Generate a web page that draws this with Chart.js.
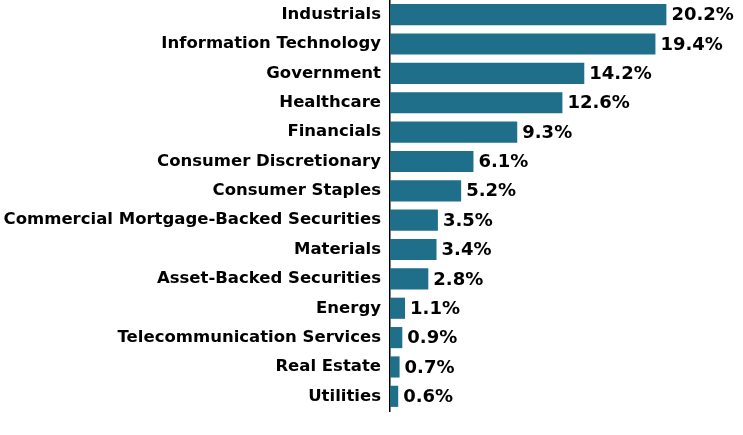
<!DOCTYPE html>
<html>
<head>
<meta charset="utf-8">
<script src="https://cdn.jsdelivr.net/npm/chart.js@4/dist/chart.umd.min.js"></script>
<style>
  html, body { margin: 0; padding: 0; background: #fff; }
  #wrap { width: 743px; height: 435px; }
</style>
</head>
<body>
<div id="wrap"><canvas id="sectorChart"></canvas></div>
<script>
const sectors = ['Industrials', 'Information Technology', 'Government', 'Healthcare', 'Financials',
    'Consumer Discretionary', 'Consumer Staples', 'Commercial Mortgage-Backed Securities', 'Materials',
    'Asset-Backed Securities', 'Energy', 'Telecommunication Services', 'Real Estate', 'Utilities'];
const weights = [20.2, 19.4, 14.2, 12.6, 9.3, 6.1, 5.2, 3.5, 3.4, 2.8, 1.1, 0.9, 0.7, 0.6];

// escreve o valor no fim de cada barra
const valueLabels = {
    id: 'valueLabels',
    afterDatasetsDraw(chart) {
        const ctx = chart.ctx;
        const meta = chart.getDatasetMeta(0);
        ctx.save();
        ctx.font = 'bold 18px "DejaVu Sans", Verdana, sans-serif';
        ctx.fillStyle = '#000';
        ctx.textAlign = 'left';
        ctx.textBaseline = 'middle';
        meta.data.forEach((bar, i) => {
            ctx.fillText(weights[i].toFixed(1) + '%', bar.x + 5, bar.y + 1);
        });
        ctx.restore();
    }
};

const ctx = document.getElementById('sectorChart').getContext('2d');
new Chart(ctx, {
    type: 'bar',
    data: {
        labels: sectors,
        datasets: [{
            data: weights,
            backgroundColor: '#1f6e8a',
            borderWidth: 0,
            categoryPercentage: 1,
            barPercentage: 0.72
        }]
    },
    options: {
        indexAxis: 'y',
        responsive: true,
        maintainAspectRatio: false,
        animation: false,
        layout: { padding: { top: 0, bottom: 24, left: 0, right: 0 } },
        plugins: {
            legend: { display: false },
            tooltip: { enabled: false }
        },
        scales: {
            x: {
                display: false,
                min: 0,
                max: 25.8
            },
            y: {
                afterFit(scale) {
                    scale.width = 390;
                    scale.paddingTop = 0;
                    scale.paddingBottom = 0;
                },
                grid: { display: false, drawTicks: false },
                border: { display: true, color: '#000', width: 1.5 },
                ticks: {
                    color: '#000',
                    padding: 9,
                    font: { family: '"DejaVu Sans", Verdana, sans-serif', size: 16.5, weight: 'bold' }
                }
            }
        }
    },
    plugins: [valueLabels]
});
</script>
</body>
</html>
